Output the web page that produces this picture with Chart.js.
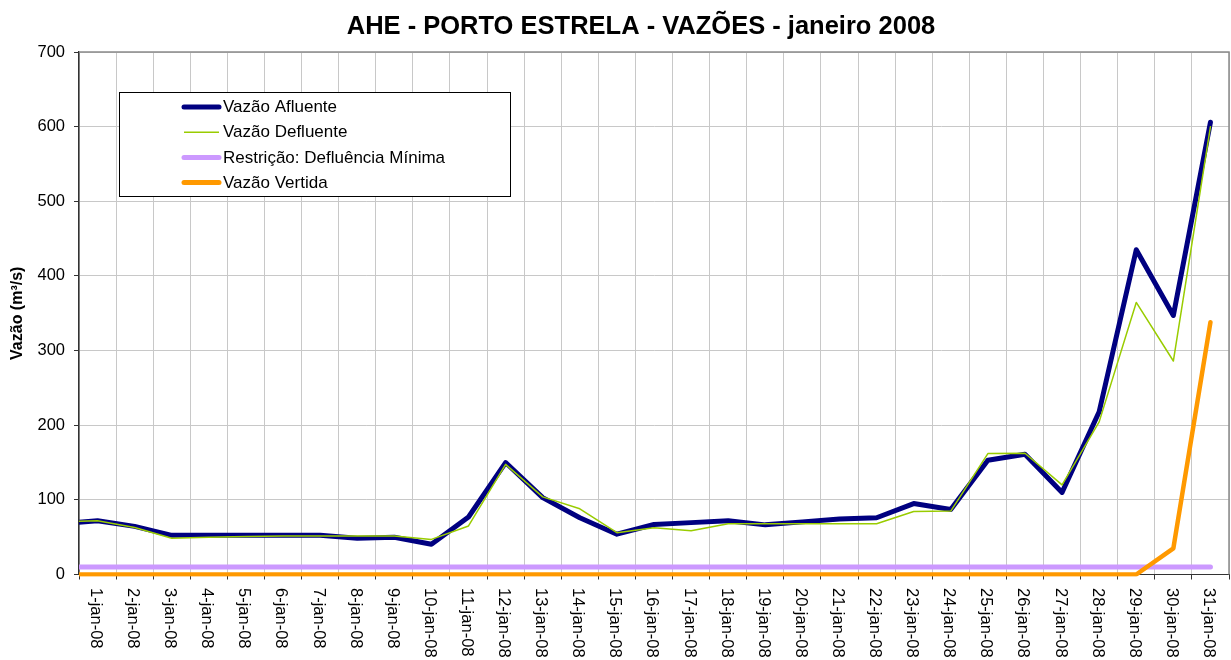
<!DOCTYPE html>
<html>
<head>
<meta charset="utf-8">
<script src="https://cdn.jsdelivr.net/npm/chart.js@4.4.1/dist/chart.umd.min.js"></script>
<style>
html,body{margin:0;padding:0;background:#ffffff;}
canvas{display:block;}
</style>
</head>
<body>
<canvas id="c" width="1231" height="660"></canvas>
<script>
// ---- data (tick labels / categories) ----
const titleText = 'AHE - PORTO ESTRELA - VAZÕES - janeiro 2008';
const yAxisTitle = 'Vazão (m³/s)';
const dayLabels = ['1-jan-08','2-jan-08','3-jan-08','4-jan-08','5-jan-08','6-jan-08','7-jan-08','8-jan-08',
  '9-jan-08','10-jan-08','11-jan-08','12-jan-08','13-jan-08','14-jan-08','15-jan-08','16-jan-08',
  '17-jan-08','18-jan-08','19-jan-08','20-jan-08','21-jan-08','22-jan-08','23-jan-08','24-jan-08',
  '25-jan-08','26-jan-08','27-jan-08','28-jan-08','29-jan-08','30-jan-08','31-jan-08'];
const yTicks = [0, 100, 200, 300, 400, 500, 600, 700];
// series values: first entry is the previous day (31-dez-07), then 1..31 jan
const vazaoAfluente = [68, 72, 64.5, 52.5, 52.5, 52.5, 52.5, 52.5, 48.5, 50, 40.5, 77, 150, 103, 76, 54,
  67, 69.5, 72, 66.5, 70.5, 74.5, 76, 95, 87, 153, 161, 110, 218, 435, 347, 606];
const vazaoDefluente = [71, 72, 63, 48.5, 50, 51, 51.5, 51.5, 51.5, 51.5, 47, 65, 147.5, 104, 88, 56,
  62.5, 58.5, 68, 68, 68, 68, 68, 84.5, 85, 162, 162.5, 120, 204.5, 364.5, 286, 600];
const defluenciaMinima = [10, 10, 10, 10, 10, 10, 10, 10, 10, 10, 10, 10, 10, 10, 10, 10,
  10, 10, 10, 10, 10, 10, 10, 10, 10, 10, 10, 10, 10, 10, 10, 10];
const vazaoVertida = [0, 0, 0, 0, 0, 0, 0, 0, 0, 0, 0, 0, 0, 0, 0, 0,
  0, 0, 0, 0, 0, 0, 0, 0, 0, 0, 0, 0, 0, 0, 35, 338];
const seriesNames = ['Vazão Afluente', 'Vazão Defluente', 'Restrição: Defluência Mínima', 'Vazão Vertida'];

// ---- build ----
const FONT = '"Liberation Sans", Arial, sans-serif';
const toPoints = arr => arr.map((v, i) => ({x: i, y: v}));
const boundaries = [0.5].concat(dayLabels.map((_, i) => i + 1.5));

const styles = [
  {color: '#000080', width: 5, order: 4},
  {color: '#99CC00', width: 1.5, order: 3},
  {color: '#CC99FF', width: 5, order: 2},
  {color: '#FF9900', width: 4.5, order: 1}
];
const seriesData = [vazaoAfluente, vazaoDefluente, defluenciaMinima, vazaoVertida];

const datasets = seriesData.map((arr, k) => ({
  label: seriesNames[k],
  data: toPoints(arr),
  borderColor: styles[k].color,
  backgroundColor: styles[k].color,
  borderWidth: styles[k].width,
  pointRadius: 0,
  pointHoverRadius: 0,
  tension: 0,
  fill: false,
  borderCapStyle: 'round',
  borderJoinStyle: 'round',
  order: styles[k].order,
  clip: {left: 0, top: 5, right: 5, bottom: 2}
}));

const framePlugin = {
  id: 'frame',
  beforeDatasetsDraw(chart) {
    const {ctx, chartArea: a} = chart;
    ctx.save();
    ctx.strokeStyle = '#8a8a8a';
    ctx.lineWidth = 1.5;
    ctx.beginPath();
    ctx.moveTo(a.left, a.top);
    ctx.lineTo(a.right, a.top);
    ctx.lineTo(a.right, a.bottom);
    ctx.stroke();
    ctx.restore();
  }
};

const decorPlugin = {
  id: 'decor',
  afterDraw(chart) {
    const {ctx} = chart;
    const xs = chart.scales.x;
    ctx.save();
    // title
    ctx.fillStyle = '#000';
    ctx.font = 'bold 25.5px ' + FONT;
    ctx.textAlign = 'center';
    ctx.textBaseline = 'alphabetic';
    ctx.fillText(titleText, 641, 34);
    // x labels, rotated clockwise (read top to bottom)
    ctx.font = '16.5px ' + FONT;
    ctx.textAlign = 'left';
    ctx.textBaseline = 'middle';
    dayLabels.forEach((lab, i) => {
      const px = xs.getPixelForValue(i + 1);
      ctx.save();
      ctx.translate(px - 2, 588);
      ctx.rotate(Math.PI / 2);
      ctx.fillText(lab, 0, 0);
      ctx.restore();
    });
    // legend
    const bx = 119.5, by = 92.5, bw = 391, bh = 104;
    ctx.fillStyle = '#fff';
    ctx.fillRect(bx, by, bw, bh);
    ctx.strokeStyle = '#000';
    ctx.lineWidth = 1;
    ctx.strokeRect(bx, by, bw, bh);
    ctx.font = '17px ' + FONT;
    ctx.textAlign = 'left';
    ctx.textBaseline = 'middle';
    chart.data.datasets.forEach((ds, k) => {
      const cy = 107 + k * 25.2;
      ctx.strokeStyle = ds.borderColor;
      ctx.lineWidth = k === 1 ? 1.5 : 5;
      ctx.lineCap = k === 1 ? 'butt' : 'round';
      ctx.beginPath();
      ctx.moveTo(184, cy);
      ctx.lineTo(219, cy);
      ctx.stroke();
      ctx.fillStyle = '#000';
      ctx.fillText(ds.label, 223, cy + 0.5);
    });
    ctx.restore();
  }
};

new Chart(document.getElementById('c'), {
  type: 'line',
  data: {datasets},
  options: {
    responsive: false,
    animation: false,
    events: [],
    layout: {padding: {left: 0, right: 2, top: 52, bottom: 0}},
    plugins: {
      legend: {display: false},
      title: {display: false},
      tooltip: {enabled: false}
    },
    scales: {
      x: {
        type: 'linear',
        min: 0.5,
        max: dayLabels.length + 0.5,
        afterBuildTicks: s => { s.ticks = boundaries.map(v => ({value: v})); },
        afterFit: s => { s.height = 85.5; },
        ticks: {display: false},
        grid: {color: '#c8c8c8', lineWidth: 1, drawTicks: true, tickLength: 5, tickColor: '#333'},
        border: {display: true, color: '#333', width: 1}
      },
      y: {
        type: 'linear',
        min: yTicks[0],
        max: yTicks[yTicks.length - 1],
        afterBuildTicks: s => { s.ticks = yTicks.map(v => ({value: v})); },
        afterFit: s => { s.width = 79; },
        ticks: {color: '#000', padding: 9, font: {family: FONT, size: 16.5}},
        grid: {color: '#c8c8c8', lineWidth: 1, drawTicks: true, tickLength: 5, tickColor: '#333'},
        border: {display: true, color: '#333', width: 1.5},
        title: {display: true, text: yAxisTitle, color: '#000', padding: {top: 8, bottom: 0},
          font: {family: FONT, size: 16, weight: 'bold'}}
      }
    }
  },
  plugins: [framePlugin, decorPlugin]
});
</script>
</body>
</html>
